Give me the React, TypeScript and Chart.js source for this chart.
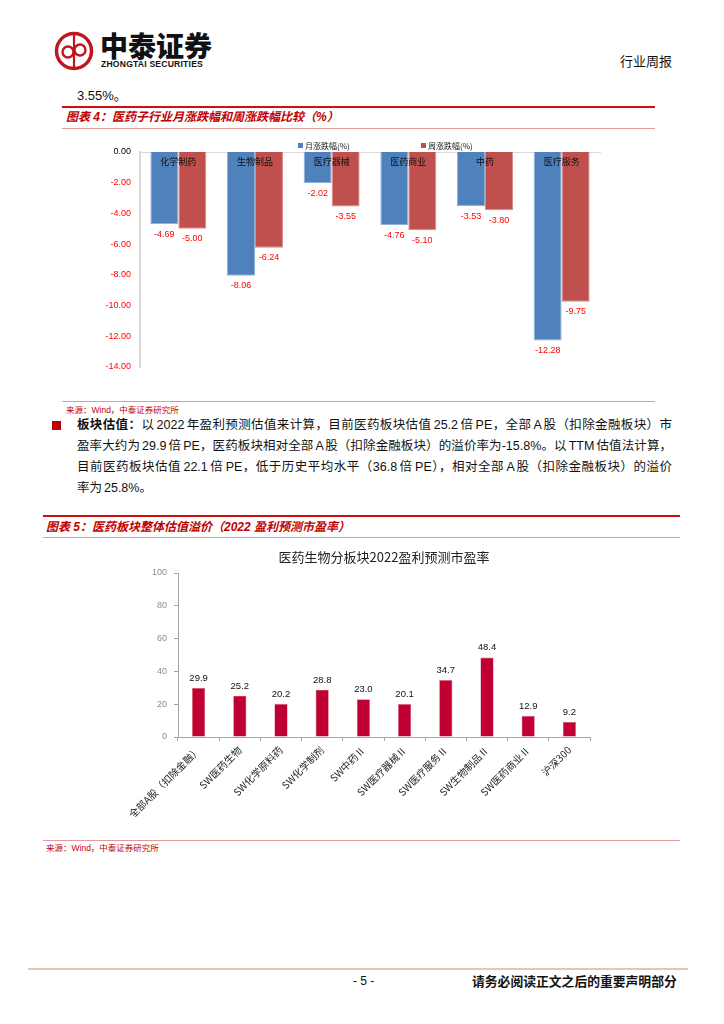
import React, { useEffect, useRef } from "react";
import { Chart, registerables } from "chart.js";

Chart.register(...registerables);

// ---------- Chart 1 data ----------
const SUB_INDUSTRIES = ["化学制药", "生物制品", "医疗器械", "医药商业", "中药", "医疗服务"];
const MONTH_LABEL = "月涨跌幅(%)";
const WEEK_LABEL = "周涨跌幅(%)";
const MONTH_CHANGE = [-4.69, -8.06, -2.02, -4.76, -3.53, -12.28];
const WEEK_CHANGE = [-5.0, -6.24, -3.55, -5.1, -3.8, -9.75];
const CHANGE_MIN = -14;
const CHANGE_MAX = 0;
const CHANGE_STEP = 2;

// ---------- Chart 2 data ----------
const PE_TITLE = "医药生物分板块2022盈利预测市盈率";
const PE_CATEGORIES = [
  "全部A股（扣除金融）",
  "SW医药生物",
  "SW化学原料药",
  "SW化学制剂",
  "SW中药Ⅱ",
  "SW医疗器械Ⅱ",
  "SW医疗服务Ⅱ",
  "SW生物制品Ⅱ",
  "SW医药商业Ⅱ",
  "沪深300",
];
const PE_VALUES = [29.9, 25.2, 20.2, 28.8, 23.0, 20.1, 34.7, 48.4, 12.9, 9.2];
const PE_MIN = 0;
const PE_MAX = 100;
const PE_STEP = 20;

const LATIN = "'Liberation Sans', 'Noto Sans CJK SC', sans-serif";
const CJK = "'Noto Sans CJK SC', 'Liberation Sans', sans-serif";

function ChangeChart() {
  const ref = useRef<HTMLCanvasElement>(null);
  useEffect(() => {
    const labelPlugin = {
      id: "changeLabels",
      afterDatasetsDraw(chart: any) {
        const { ctx, chartArea } = chart;
        const xs = chart.scales.x;
        ctx.save();
        ctx.font = `9px ${CJK}`;
        ctx.fillStyle = "#111";
        ctx.textAlign = "center";
        ctx.textBaseline = "middle";
        chart.data.labels.forEach((l: string, i: number) => {
          ctx.fillText(l, xs.getPixelForValue(i), chartArea.top + 10);
        });
        ctx.font = `9px ${LATIN}`;
        ctx.fillStyle = "#FF0000";
        chart.data.datasets.forEach((ds: any, di: number) => {
          const meta = chart.getDatasetMeta(di);
          meta.data.forEach((bar: any, i: number) => {
            ctx.fillText(Number(ds.data[i]).toFixed(2), bar.x, bar.y + 10);
          });
        });
        const lx = [chartArea.left + 158, chartArea.left + 281];
        ctx.font = `8px ${CJK}`;
        ctx.textAlign = "left";
        chart.data.datasets.forEach((ds: any, di: number) => {
          ctx.fillStyle = ds.backgroundColor;
          ctx.fillRect(lx[di], chartArea.top - 9, 5, 5);
          ctx.fillStyle = "#222";
          ctx.fillText(ds.label, lx[di] + 7, chartArea.top - 6.5);
        });
        ctx.restore();
      },
    };
    const chart = new Chart(ref.current as HTMLCanvasElement, {
      type: "bar",
      data: {
        labels: SUB_INDUSTRIES,
        datasets: [
          {
            label: MONTH_LABEL,
            data: MONTH_CHANGE,
            backgroundColor: "#4F81BD",
            borderColor: "#8DB0DB",
            borderWidth: 1,
          },
          {
            label: WEEK_LABEL,
            data: WEEK_CHANGE,
            backgroundColor: "#C0504D",
            borderColor: "#D98A88",
            borderWidth: 1,
          },
        ],
      },
      options: {
        animation: false,
        responsive: false,
        maintainAspectRatio: false,
        layout: { padding: { top: 17, right: 55, bottom: 33, left: 0 } },
        categoryPercentage: 0.73,
        barPercentage: 1.0,
        plugins: { legend: { display: false }, tooltip: { enabled: false } },
        scales: {
          x: {
            type: "category",
            position: "top",
            ticks: { display: false },
            grid: { display: false, drawTicks: false },
            border: { display: true, color: "#D9D9D9", width: 1 },
            afterFit: (s: any) => {
              s.height = 0;
            },
          },
          y: {
            min: CHANGE_MIN,
            max: CHANGE_MAX,
            ticks: {
              stepSize: CHANGE_STEP,
              padding: 9,
              font: { size: 9, family: LATIN },
              color: (c: any) => (c.tick && c.tick.value === 0 ? "#000" : "#FF0000"),
              callback: (v: any) => Number(v).toFixed(2),
            },
            grid: { display: false, drawTicks: false },
            border: { display: true, color: "#D9D9D9", width: 2 },
            afterFit: (s: any) => {
              s.width = 78;
            },
          },
        },
      } as any,
      plugins: [labelPlugin],
    });
    return () => chart.destroy();
  }, []);
  return <canvas ref={ref} width={593} height={265} style={{ position: "absolute", left: 62, top: 135, width: 593, height: 265 }} />;
}

function PEChart() {
  const ref = useRef<HTMLCanvasElement>(null);
  useEffect(() => {
    const valuePlugin = {
      id: "peValues",
      afterDatasetsDraw(chart: any) {
        const { ctx } = chart;
        ctx.save();
        ctx.font = `9.5px ${LATIN}`;
        ctx.fillStyle = "#111";
        ctx.textAlign = "center";
        ctx.textBaseline = "bottom";
        const ds = chart.data.datasets[0];
        chart.getDatasetMeta(0).data.forEach((bar: any, i: number) => {
          ctx.fillText(Number(ds.data[i]).toFixed(1), bar.x, bar.y - 5);
        });
        ctx.restore();
      },
    };
    const chart = new Chart(ref.current as HTMLCanvasElement, {
      type: "bar",
      data: {
        labels: PE_CATEGORIES,
        datasets: [
          {
            data: PE_VALUES,
            backgroundColor: "#C00032",
            borderColor: "#D9667F",
            borderWidth: 0.6,
          },
        ],
      },
      options: {
        animation: false,
        responsive: false,
        maintainAspectRatio: false,
        layout: { padding: { top: 0, right: 30, bottom: 8, left: 0 } },
        categoryPercentage: 1,
        barPercentage: 0.32,
        plugins: {
          legend: { display: false },
          tooltip: { enabled: false },
          title: {
            display: true,
            text: PE_TITLE,
            fullSize: false,
            color: "#222",
            font: { size: 13, family: CJK, weight: "normal", lineHeight: 1.2 },
            padding: { top: 9, bottom: 8.4 },
          },
        },
        scales: {
          x: {
            ticks: {
              minRotation: 45,
              maxRotation: 45,
              autoSkip: false,
              padding: 3,
              color: "#222",
              font: { size: 10, family: CJK },
            },
            grid: { drawOnChartArea: false, drawTicks: true, tickLength: 4, color: "#A6A6A6", offset: true },
            border: { display: true, color: "#A6A6A6", width: 1 },
            afterFit: (s: any) => {
              s.height = 80;
            },
          },
          y: {
            min: PE_MIN,
            max: PE_MAX,
            ticks: {
              stepSize: PE_STEP,
              padding: 7,
              color: "#8C8C8C",
              font: { size: 9, family: LATIN },
            },
            grid: { drawOnChartArea: false, drawTicks: true, tickLength: 4, color: "#A6A6A6" },
            border: { display: true, color: "#A6A6A6", width: 1 },
            afterFit: (s: any) => {
              s.width = 103;
            },
          },
        },
      } as any,
      plugins: [valuePlugin],
    });
    return () => chart.destroy();
  }, []);
  return <canvas ref={ref} width={545} height={285} style={{ position: "absolute", left: 75, top: 540, width: 545, height: 285 }} />;
}

const abs = (o: any): React.CSSProperties => ({ position: "absolute", ...o });

const PARA_LINES = [
  "以 2022 年盈利预测估值来计算，目前医药板块估值 25.2 倍 PE，全部 A 股（扣除金融板块）市",
  "盈率大约为 29.9 倍 PE，医药板块相对全部 A 股（扣除金融板块）的溢价率为-15.8%。以 TTM 估值法计算，",
  "目前医药板块估值 22.1 倍 PE，低于历史平均水平（36.8 倍 PE），相对全部 A 股（扣除金融板块）的溢价",
  "率为 25.8%。",
];

export default function App() {
  const red = "#C00000";
  const lineRed = "#E39A9A";
  const textStyle: React.CSSProperties = { fontFamily: LATIN, fontSize: 13, color: "#111", whiteSpace: "nowrap", lineHeight: "16px" };
  return (
    <div style={{ position: "absolute", left: 0, top: 0, width: 724, height: 1024, background: "#fff", overflow: "hidden" }}>
      <svg style={abs({ left: 50, top: 28, width: 50, height: 46 })} viewBox="0 0 50 46">
        <circle cx="24" cy="23" r="17.5" fill="none" stroke="#C0161D" strokeWidth="3.5" />
        <line x1="24" y1="7" x2="24" y2="39" stroke="#C0161D" strokeWidth="2.2" />
        <circle cx="18" cy="24" r="5.5" fill="none" stroke="#C0161D" strokeWidth="2.4" />
        <circle cx="30" cy="22" r="5.5" fill="none" stroke="#C0161D" strokeWidth="2.4" />
      </svg>
      <div style={abs({ left: 100, top: 30, fontFamily: CJK, fontWeight: 900, fontSize: 28, lineHeight: "30px", color: "#111" })}>中泰证券</div>
      <div style={abs({ left: 101, top: 59, fontFamily: LATIN, fontWeight: 700, fontSize: 8.6, lineHeight: "10px", color: "#111", letterSpacing: 0.2, whiteSpace: "nowrap" })}>ZHONGTAI SECURITIES</div>
      <div style={abs({ left: 620, top: 53, fontFamily: CJK, fontSize: 13, lineHeight: "16px", color: "#111" })}>行业周报</div>

      <div style={abs({ ...textStyle, left: 77, top: 88 })}>3.55%。</div>

      <div style={abs({ left: 62, top: 106, width: 593, height: 2, background: "#D01010" })} />
      <div style={abs({ left: 66, top: 110, fontFamily: LATIN, fontSize: 12, lineHeight: "14px", color: red, fontStyle: "italic", fontWeight: 700, whiteSpace: "nowrap" })}>
        图表 4：医药子行业月涨跌幅和周涨跌幅比较（%）
      </div>
      <div style={abs({ left: 62, top: 128, width: 593, height: 1, background: lineRed })} />

      <ChangeChart />

      <div style={abs({ left: 62, top: 401, width: 593, height: 1, background: lineRed })} />
      <div style={abs({ left: 66, top: 405, fontFamily: LATIN, fontSize: 8.5, lineHeight: "10px", color: red, whiteSpace: "nowrap" })}>来源：Wind，中泰证券研究所</div>

      <div style={abs({ left: 52, top: 421, width: 9, height: 9, background: "#C00000" })} />
      {PARA_LINES.map((t, i) => (
        <div
          key={i}
          style={abs({
            ...textStyle,
            fontSize: 12.5,
            wordSpacing: -1.5,
            left: 77,
            top: 417 + i * 21,
            width: 595,
            height: 16,
            textAlign: i < 3 ? "justify" : "left",
            textAlignLast: i < 3 ? "justify" : "left",
            whiteSpace: "normal",
            overflow: "visible",
          })}
        >
          {i === 0 ? <b>板块估值：</b> : null}
          {t}
        </div>
      ))}

      <div style={abs({ left: 43, top: 515, width: 637, height: 2, background: "#D01010" })} />
      <div style={abs({ left: 46, top: 520, fontFamily: LATIN, fontSize: 12, lineHeight: "14px", color: red, fontStyle: "italic", fontWeight: 700, whiteSpace: "nowrap" })}>
        图表 5：医药板块整体估值溢价（2022 盈利预测市盈率）
      </div>
      <div style={abs({ left: 43, top: 537, width: 637, height: 1, background: lineRed })} />

      <PEChart />

      <div style={abs({ left: 43, top: 840, width: 637, height: 1, background: lineRed })} />
      <div style={abs({ left: 46, top: 843, fontFamily: LATIN, fontSize: 8.5, lineHeight: "10px", color: red, whiteSpace: "nowrap" })}>来源：Wind，中泰证券研究所</div>

      <div style={abs({ left: 28, top: 968, width: 660, height: 2, background: "#E8C6AC" })} />
      <div style={abs({ left: 353, top: 974, fontFamily: LATIN, fontSize: 12, lineHeight: "14px", color: "#111", whiteSpace: "nowrap" })}>- 5 -</div>
      <div style={abs({ left: 472, top: 974, fontFamily: CJK, fontSize: 12.8, fontWeight: 700, lineHeight: "14px", color: "#111", whiteSpace: "nowrap" })}>
        请务必阅读正文之后的重要声明部分
      </div>
    </div>
  );
}
